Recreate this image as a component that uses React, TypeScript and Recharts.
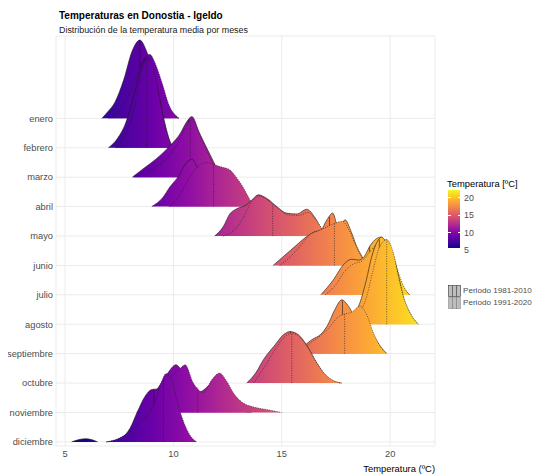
// Temperaturas en Donostia - Igeldo: crestas de densidad por mes, dos periodos
import React from 'react'
import { ComposedChart, Area, XAxis, YAxis, CartesianGrid } from 'recharts'

type Punto = [number, number | null]

const meses = ['enero', 'febrero', 'marzo', 'abril', 'mayo', 'junio', 'julio', 'agosto', 'septiembre', 'octubre', 'noviembre', 'diciembre']
const periodos = ['Periodo 1981-2010', 'Periodo 1991-2020']
const ticksTemp = [5, 10, 15, 20]
const ticksLeyenda = [5, 10, 15, 20]
const limitesColor = [5.7, 22.2]

// densidades: [temperatura, altura en filas]
const eneroP1: Punto[] = [[6.7, 0], [7.0, 0.25], [7.3, 0.55], [7.7, 1.3], [8.1, 2.3], [8.45, 2.66], [8.75, 2.3], [9.05, 1.6], [9.35, 1.0], [9.65, 0.55], [9.95, 0.22], [10.25, 0]]
const eneroP2: Punto[] = [[7.0, 0], [7.4, 0.2], [7.8, 0.6], [8.2, 1.25], [8.55, 1.9], [8.9, 2.18], [9.2, 1.8], [9.5, 1.15], [9.8, 0.45], [10.05, 0.12], [10.25, 0]]
const febreroP1: Punto[] = [[7.0, 0], [7.4, 0.3], [7.8, 0.85], [8.2, 1.85], [8.5, 2.7], [8.75, 3.08], [9.0, 2.75], [9.3, 1.9], [9.6, 0.85], [9.85, 0.2], [10.0, 0]]
const febreroP2: Punto[] = [[7.3, 0], [7.7, 0.35], [8.1, 1.1], [8.4, 2.1], [8.7, 2.95], [8.85, 3.0], [9.1, 2.6], [9.4, 1.5], [9.7, 0.5], [9.95, 0]]
const marzoP1: Punto[] = [[8.1, 0], [8.7, 0.34], [9.2, 0.62], [9.85, 1.08], [10.3, 1.47], [10.6, 1.87], [10.85, 2.06], [11.2, 1.5], [11.6, 0.9], [11.9, 0.45], [12.1, 0.12], [12.25, 0]]
const marzoP2: Punto[] = [[8.2, 0], [8.8, 0.2], [9.4, 0.45], [9.9, 0.82], [10.3, 1.3], [10.6, 1.75], [10.85, 1.95], [11.1, 1.65], [11.45, 1.05], [11.8, 0.5], [12.1, 0.12], [12.25, 0]]
const abrilP1: Punto[] = [[9.0, 0], [9.5, 0.3], [9.85, 0.68], [10.25, 1.05], [10.55, 1.45], [10.85, 1.61], [11.1, 1.35], [11.4, 1.2], [11.8, 1.08], [12.2, 0.88], [12.6, 0.6], [13.0, 0.3], [13.4, 0.1], [13.7, 0]]
const abrilP2: Punto[] = [[9.8, 0], [10.2, 0.3], [10.6, 0.8], [11.0, 1.25], [11.45, 1.49], [11.8, 1.45], [12.15, 1.36], [12.6, 1.25], [12.9, 1.0], [13.1, 0.79], [13.45, 0.34], [13.7, 0]]
const mayoP1: Punto[] = [[11.9, 0], [12.3, 0.32], [12.6, 0.75], [12.9, 0.92], [13.35, 1.05], [13.65, 1.25], [13.92, 1.4], [14.3, 1.28], [14.77, 1.0], [15.2, 0.78], [15.7, 0.75], [16.15, 0.91], [16.5, 0.66], [16.77, 0.32], [17.0, 0]]
const mayoP2: Punto[] = [[12.3, 0], [12.8, 0.2], [13.2, 0.6], [13.6, 1.15], [13.95, 1.36], [14.3, 1.25], [14.8, 0.95], [15.3, 0.72], [15.8, 0.7], [16.2, 0.8], [16.6, 0.52], [16.9, 0.2], [17.1, 0]]
const junioP1: Punto[] = [[14.6, 0], [15.07, 0.3], [15.6, 0.64], [16.15, 0.98], [16.54, 1.15], [16.8, 1.2], [17.08, 1.55], [17.35, 1.78], [17.62, 1.25], [17.92, 1.55], [18.2, 1.15], [18.46, 0.64], [18.7, 0.3], [18.9, 0]]
const junioP2: Punto[] = [[14.9, 0], [15.4, 0.3], [15.9, 0.7], [16.3, 1.05], [16.7, 1.18], [17.0, 1.28], [17.4, 1.42], [17.8, 1.5], [18.1, 1.2], [18.4, 0.7], [18.7, 0.25], [18.9, 0]]
const julioP1: Punto[] = [[16.8, 0], [17.38, 0.51], [17.84, 1.02], [18.23, 1.21], [18.54, 1.18], [18.8, 1.3], [19.1, 1.7], [19.35, 1.9], [19.57, 1.96], [19.8, 1.75], [20.1, 1.2], [20.35, 0.7], [20.6, 0.28], [20.9, 0]]
const julioP2: Punto[] = [[17.0, 0], [17.5, 0.35], [17.9, 0.8], [18.3, 1.05], [18.7, 1.15], [19.1, 1.5], [19.5, 1.8], [19.84, 1.88], [20.12, 1.42], [20.4, 0.72], [20.65, 0.25], [20.9, 0]]
const agostoP1: Punto[] = [[17.9, 0], [18.3, 0.3], [18.6, 0.72], [18.9, 1.5], [19.15, 2.3], [19.4, 2.8], [19.6, 2.96], [19.85, 2.75], [20.15, 2.3], [20.4, 1.6], [20.6, 0.95], [20.9, 0.4], [21.3, 0]]
const agostoP2: Punto[] = [[18.2, 0], [18.6, 0.4], [18.9, 0.9], [19.2, 1.8], [19.5, 2.6], [19.84, 2.87], [20.15, 2.42], [20.38, 1.62], [20.61, 0.94], [20.92, 0.38], [21.3, 0]]
const septiembreP1: Punto[] = [[15.6, 0], [16.0, 0.25], [16.4, 0.48], [16.8, 0.66], [17.1, 0.95], [17.45, 1.5], [17.77, 1.83], [18.08, 1.61], [18.35, 1.3], [18.7, 1.2], [19.0, 1.0], [19.3, 0.55], [19.6, 0.2], [19.85, 0]]
const septiembreP2: Punto[] = [[15.8, 0], [16.3, 0.35], [16.8, 0.62], [17.2, 0.9], [17.6, 1.25], [17.9, 1.35], [18.2, 1.4], [18.61, 1.61], [18.92, 1.32], [19.23, 0.7], [19.54, 0.25], [19.84, 0]]
const octubreP1: Punto[] = [[13.38, 0], [13.8, 0.35], [14.15, 0.79], [14.69, 1.3], [15.07, 1.64], [15.38, 1.75], [15.77, 1.64], [16.23, 1.19], [16.62, 0.68], [17.08, 0.22], [17.4, 0.06], [17.77, 0]]
const octubreP2: Punto[] = [[13.7, 0], [14.2, 0.55], [14.7, 1.15], [15.1, 1.55], [15.45, 1.7], [15.8, 1.58], [16.2, 1.2], [16.6, 0.7], [17.0, 0.3], [17.4, 0.08], [17.7, 0]]
const noviembreP1: Punto[] = [[8.3, 0], [8.8, 0.35], [9.3, 0.85], [9.7, 1.3], [10.12, 1.62], [10.4, 1.4], [10.8, 0.9], [11.2, 0.7], [11.6, 0.9], [12.0, 1.2], [12.3, 1.15], [12.6, 0.6], [12.9, 0.15], [13.2, 0.05], [13.6, 0]]
const noviembreP2: Punto[] = [[8.5, 0], [9.0, 0.3], [9.5, 0.8], [9.9, 1.2], [10.25, 1.45], [10.54, 1.62], [10.92, 1.0], [11.38, 0.68], [11.77, 1.11], [12.12, 1.34], [12.46, 1.06], [12.77, 0.66], [13.23, 0.32], [13.69, 0.19], [14.3, 0.1], [15.0, 0]]
const diciembreP1: Punto[] = [[5.3, 0], [5.65, 0.08], [5.95, 0.11], [6.25, 0.07], [6.5, 0], [6.7, null], [6.9, 0], [7.3, 0.05], [7.62, 0.14], [8.0, 0.47], [8.31, 0.98], [8.69, 1.55], [9.0, 1.78], [9.3, 1.8], [9.6, 1.55], [9.9, 1.15], [10.2, 0.7], [10.5, 0.35], [10.8, 0.12], [11.0, 0]]
const diciembreP2: Punto[] = [[6.9, 0], [7.4, 0.1], [7.9, 0.3], [8.4, 0.62], [8.92, 1.04], [9.2, 1.45], [9.38, 1.89], [9.66, 2.32], [9.92, 2.12], [10.15, 1.44], [10.38, 0.87], [10.62, 0.42], [10.85, 0.14], [11.08, 0]]

const densP1 = [eneroP1, febreroP1, marzoP1, abrilP1, mayoP1, junioP1, julioP1, agostoP1, septiembreP1, octubreP1, noviembreP1, diciembreP1]
const densP2 = [eneroP2, febreroP2, marzoP2, abrilP2, mayoP2, junioP2, julioP2, agostoP2, septiembreP2, octubreP2, noviembreP2, diciembreP2]
const medianasP1 = [8.45, 8.7, 10.7, 11.5, 14.4, 17.2, 19.05, 19.5, 17.8, 15.4, 10.9, 9.1]
const medianasP2 = [8.75, 8.77, 10.78, 11.85, 14.58, 17.43, 19.25, 19.84, 17.9, 15.46, 11.12, 9.54]

// paleta plasma
const plasma = ['#0D0887', '#41049D', '#6A00A8', '#8F0DA4', '#B12A90', '#CC4778', '#E16462', '#F2844B', '#FCA636', '#FCCE25', '#F0F921']

const W = 524
const H = 466
const margen = { top: 28, right: 97, bottom: 0, left: 0 }
const anchoEjeY = 48
const altoEjeX = 28
const dominioX: [number, number] = [4.58, 22.07]
const dominioY: [number, number] = [0.86, 14.8]
const fuente = '"Liberation Sans", Arial, sans-serif'
const gris = '#4D4D4D'

const izq = margen.left + anchoEjeY
const anchoPanel = W - izq - margen.right
const gx = (t: number) => izq + ((t - dominioX[0]) / (dominioX[1] - dominioX[0])) * anchoPanel

// altura de la curva en la mediana (para la linea vertical)
const alturaEn = (d: Punto[], x: number) => {
  const pts = d.filter((p) => p[1] != null) as [number, number][]
  for (let i = 1; i < pts.length; i++) {
    if (x <= pts[i][0]) {
      const [x0, y0] = pts[i - 1]
      const [x1, y1] = pts[i]
      return y0 + ((y1 - y0) * (x - x0)) / (x1 - x0)
    }
  }
  return 0
}

const Clave = ({ dash }: { dash?: string }) => (
  <svg width={13} height={12} style={{ display: 'block' }}>
    <rect x={0.5} y={0.5} width={12} height={11} fill="#BDBDBD" stroke="#333" strokeWidth={0.6} strokeDasharray={dash} />
    <line x1={4.5} y1={0.5} x2={4.5} y2={11.5} stroke="#333" strokeWidth={0.6} strokeDasharray={dash} />
    <line x1={8.5} y1={0.5} x2={8.5} y2={11.5} stroke="#333" strokeWidth={0.6} strokeDasharray={dash} />
  </svg>
)

export default function App() {
  const capas: React.ReactNode[] = []
  meses.forEach((mes, i) => {
    const fila = 12 - i
    ;[densP1[i], densP2[i]].forEach((dens, p) => {
      const dash = p === 0 ? undefined : '1 1.4'
      const datos = dens.map(([t, h]) => ({ t, y: h == null ? null : fila + h }))
      const med = p === 0 ? medianasP1[i] : medianasP2[i]
      const linea = [{ t: med, y: fila }, { t: med, y: fila + alturaEn(dens, med) }]
      capas.push(
        <Area
          key={mes + p}
          data={datos}
          dataKey="y"
          type="monotone"
          baseValue={fila}
          fill="url(#plasma)"
          fillOpacity={1}
          stroke="#1a1a1a"
          strokeWidth={0.6}
          strokeDasharray={dash}
          dot={false}
          activeDot={false}
          isAnimationActive={false}
        />,
        <Area
          key={mes + p + 'm'}
          data={linea}
          dataKey="y"
          type="linear"
          baseValue={fila}
          fill="none"
          stroke="#1a1a1a"
          strokeWidth={0.6}
          strokeDasharray={dash}
          dot={false}
          activeDot={false}
          isAnimationActive={false}
        />
      )
    })
  })

  // leyenda de color
  const barTop = 182
  const barH = 58
  const yBar = (v: number) => barTop + barH - ((v - limitesColor[0]) / (limitesColor[1] - limitesColor[0])) * barH
  const gradCss = 'linear-gradient(to top, ' + plasma.join(', ') + ')'

  return (
    <div style={{ position: 'relative', width: W, height: H, fontFamily: fuente }}>
      <div style={{ position: 'absolute', left: 51, top: 2, fontSize: 10, fontWeight: 'bold', lineHeight: '11px', color: '#000' }}>
        Temperaturas en Donostia - Igeldo
      </div>
      <div style={{ position: 'absolute', left: 51, top: 17, fontSize: 8.9, lineHeight: '10px', color: '#1a1a1a' }}>
        Distribución de la temperatura media por meses
      </div>
      <ComposedChart width={W} height={H} margin={margen}>
        <defs>
          <linearGradient id="plasma" gradientUnits="userSpaceOnUse" x1={gx(limitesColor[0])} y1={0} x2={gx(limitesColor[1])} y2={0}>
            {plasma.map((c, k) => (
              <stop key={c} offset={k / (plasma.length - 1)} stopColor={c} />
            ))}
          </linearGradient>
        </defs>
        <CartesianGrid stroke="#EBEBEB" strokeWidth={1} />
        <XAxis
          dataKey="t"
          type="number"
          domain={dominioX}
          ticks={ticksTemp}
          allowDataOverflow
          axisLine={false}
          tickLine={false}
          tickSize={0}
          tickMargin={4}
          height={altoEjeX}
          tick={{ fontSize: 9.3, fill: gris, fontFamily: fuente }}
        />
        <YAxis
          type="number"
          domain={dominioY}
          ticks={[1, 2, 3, 4, 5, 6, 7, 8, 9, 10, 11, 12]}
          tickFormatter={(v: number) => meses[12 - v]}
          allowDataOverflow
          axisLine={false}
          tickLine={false}
          tickSize={0}
          tickMargin={3}
          width={anchoEjeY}
          tick={{ fontSize: 9.3, fill: gris, fontFamily: fuente }}
        />
        {capas}
      </ComposedChart>
      <div style={{ position: 'absolute', right: W - 427, top: 455, fontSize: 9.4, lineHeight: '11px', color: '#000', whiteSpace: 'nowrap' }}>
        Temperatura (ºC)
      </div>
      <div style={{ position: 'absolute', left: 439, top: 170, fontSize: 9.4, lineHeight: '11px', color: '#000', whiteSpace: 'nowrap' }}>
        Temperatura [ºC]
      </div>
      <div style={{ position: 'absolute', left: 440, top: barTop, width: 12, height: barH, background: gradCss }} />
      {ticksLeyenda.map((v) => (
        <React.Fragment key={v}>
          <div style={{ position: 'absolute', left: 440, top: yBar(v) - 0.5, width: 2.5, height: 1, background: '#fff' }} />
          <div style={{ position: 'absolute', left: 449.5, top: yBar(v) - 0.5, width: 2.5, height: 1, background: '#fff' }} />
          <div style={{ position: 'absolute', left: 456, top: yBar(v) - 5, fontSize: 8.8, lineHeight: '10px', color: gris }}>{v}</div>
        </React.Fragment>
      ))}
      {periodos.map((p, k) => (
        <React.Fragment key={p}>
          <div style={{ position: 'absolute', left: 440, top: 277 + k * 12 }}>
            <Clave dash={k === 0 ? undefined : '1 1'} />
          </div>
          <div style={{ position: 'absolute', left: 455, top: 278 + k * 12, fontSize: 8.1, lineHeight: '10px', color: gris, whiteSpace: 'nowrap' }}>
            {p}
          </div>
        </React.Fragment>
      ))}
    </div>
  )
}
